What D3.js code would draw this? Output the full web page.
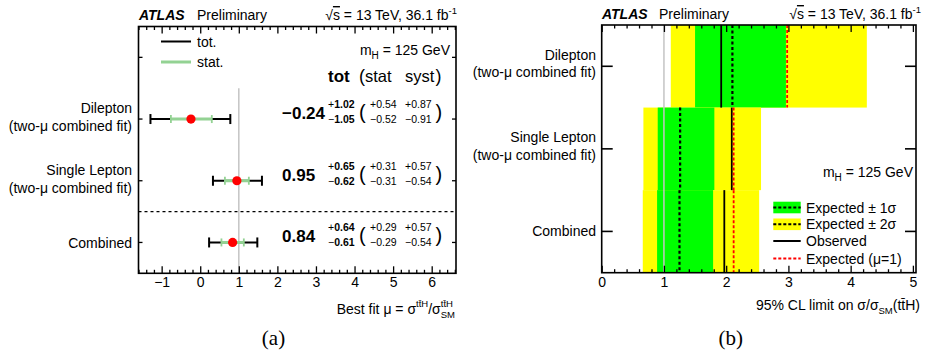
<!DOCTYPE html>
<html><head><meta charset="utf-8">
<script src="https://cdn.jsdelivr.net/npm/d3@7"></script>
<style>
body{margin:0;background:#fff}
svg{display:block}
text{font-family:"Liberation Sans",Arial,Helvetica,sans-serif;fill:#000;white-space:pre}
</style>
</head><body>
<svg id="c" width="926" height="354"></svg>
<script>
// ---------- Data: panel (a) best-fit mu ----------
const leftCategories = ["Dilepton", "Single Lepton", "Combined"];
const leftSubLabels = ["(two-\u03bc combined fit)", "(two-\u03bc combined fit)", ""];
const muBest   = [-0.24, 0.95, 0.84];
const totUp    = [1.02, 0.65, 0.64];
const totDown  = [1.05, 0.62, 0.61];
const statUp   = [0.54, 0.31, 0.29];
const statDown = [0.52, 0.31, 0.29];
const systUp   = [0.87, 0.57, 0.57];
const systDown = [0.91, 0.54, 0.54];
const leftTicks = [-1, 0, 1, 2, 3, 4, 5, 6];

// ---------- Data: panel (b) 95% CL limits ----------
const rightCategories = ["Dilepton", "Single Lepton", "Combined"];
const rightSubLabels = ["(two-\u03bc combined fit)", "(two-\u03bc combined fit)", ""];
const observedLimit = [1.92, 2.09, 1.97];
const expectedLimit = [2.10, 1.26, 1.25];
const expectedMu1   = [2.98, 2.12, 2.12];
const band1Low  = [1.50, 0.90, 0.89];
const band1High = [2.96, 1.81, 1.79];
const band2Low  = [1.11, 0.67, 0.66];
const band2High = [4.26, 2.56, 2.53];
const rightTicks = [0, 1, 2, 3, 4, 5];

const svg = d3.select("#c");
const GREEN = "#00ff00", YELLOW = "#ffff00", STATG = "#93d293";
const MINUS = "\u2212";
const fmt = v => (v < 0 ? MINUS : "") + Math.abs(v).toFixed(2);

// ---------- helpers ----------
function addT(g, x, p) {
  const t = g.append("text").attr("x", x + (p.dx || 0)).attr("y", p.dy || 0)
    .attr("font-size", p.size || 14).text(p.t);
  if (p.bold) t.attr("font-weight", "bold");
  if (p.italic) t.attr("font-style", "italic");
  if (p.over) t.style("text-decoration", "overline");
  if (p.family) t.style("font-family", p.family);
  return t;
}
function richText(parent, x, y, parts, anchor) {
  const g = parent.append("g");
  let cx = 0;
  parts.forEach(p => {
    if (p.stack) {
      let w = 0;
      p.stack.forEach(s => { const t = addT(g, cx, s); w = Math.max(w, t.node().getComputedTextLength()); });
      cx += w;
    } else {
      const t = addT(g, cx, p);
      cx += t.node().getComputedTextLength() + (p.gap || 0);
    }
  });
  const off = anchor === "end" ? -cx : anchor === "middle" ? -cx / 2 : 0;
  g.attr("transform", `translate(${x + off},${y})`);
  return g;
}
function minorTicks(domain, step, majors) {
  const out = [];
  const n0 = Math.ceil(domain[0] / step - 1e-9), n1 = Math.floor(domain[1] / step + 1e-9);
  for (let i = n0; i <= n1; i++) {
    const v = +(i * step).toFixed(6);
    if (!majors.some(m => Math.abs(m - v) < 1e-6)) out.push(v);
  }
  return out;
}
function xAxes(g, x, yBot, yTop, majors, minors) {
  const styleAx = sel => {
    sel.select(".domain").remove();
    sel.selectAll("line").attr("stroke", "#000").attr("stroke-width", 1.3);
    sel.selectAll("text").attr("font-size", 14).style("font-family", '"Liberation Sans",Arial,sans-serif');
  };
  g.append("g").attr("transform", `translate(0,${yBot})`)
    .call(d3.axisBottom(x).tickValues(majors).tickSize(-7).tickPadding(4).tickFormat(d3.format("d"))).call(styleAx);
  g.append("g").attr("transform", `translate(0,${yBot})`)
    .call(d3.axisBottom(x).tickValues(minors).tickSize(-3.5).tickFormat("")).call(styleAx);
  g.append("g").attr("transform", `translate(0,${yTop})`)
    .call(d3.axisTop(x).tickValues(majors).tickSize(-7).tickFormat("")).call(styleAx);
  g.append("g").attr("transform", `translate(0,${yTop})`)
    .call(d3.axisTop(x).tickValues(minors).tickSize(-3.5).tickFormat("")).call(styleAx);
}

// ================= Panel (a) =================
const xL = d3.scaleLinear().domain([-1.6, 6.63]).range([138.5, 456]);
const yL = d3.scaleBand().domain(["legend", ...leftCategories]).range([26.5, 273.3]);
const gL = svg.append("g");

gL.append("line").attr("x1", xL(1)).attr("x2", xL(1))
  .attr("y1", yL("Dilepton")).attr("y2", yL.range()[1])
  .attr("stroke", "#c4c4c4").attr("stroke-width", 1.5);
gL.append("line").attr("x1", xL.range()[0]).attr("x2", xL.range()[1])
  .attr("y1", yL("Combined")).attr("y2", yL("Combined"))
  .attr("stroke", "#000").attr("stroke-width", 1.3).attr("stroke-dasharray", "3,3");

xAxes(gL, xL, yL.range()[1], yL.range()[0], leftTicks, minorTicks(xL.domain(), 0.2, leftTicks));
yL.domain().forEach(c => {
  const yc = yL(c) + yL.bandwidth() / 2;
  gL.append("line").attr("x1", xL.range()[0]).attr("x2", xL.range()[0] + 4).attr("y1", yc).attr("y2", yc).attr("stroke", "#000").attr("stroke-width", 1.3);
  gL.append("line").attr("x1", xL.range()[1] - 4).attr("x2", xL.range()[1]).attr("y1", yc).attr("y2", yc).attr("stroke", "#000").attr("stroke-width", 1.3);
});

leftCategories.forEach((c, i) => {
  const yc = yL(c) + yL.bandwidth() / 2;
  const lo = muBest[i] - totDown[i], hi = muBest[i] + totUp[i];
  gL.append("line").attr("x1", xL(lo)).attr("x2", xL(hi)).attr("y1", yc).attr("y2", yc).attr("stroke", "#000").attr("stroke-width", 2);
  [lo, hi].forEach(v => gL.append("line").attr("x1", xL(v)).attr("x2", xL(v)).attr("y1", yc - 5).attr("y2", yc + 5).attr("stroke", "#000").attr("stroke-width", 2));
  const slo = muBest[i] - statDown[i], shi = muBest[i] + statUp[i];
  gL.append("line").attr("x1", xL(slo)).attr("x2", xL(shi)).attr("y1", yc).attr("y2", yc).attr("stroke", STATG).attr("stroke-width", 3);
  [slo, shi].forEach(v => gL.append("line").attr("x1", xL(v)).attr("x2", xL(v)).attr("y1", yc - 4).attr("y2", yc + 4).attr("stroke", STATG).attr("stroke-width", 1.8));
  gL.append("circle").attr("cx", xL(muBest[i])).attr("cy", yc).attr("r", 4.6).attr("fill", "#ff0000");

  if (leftSubLabels[i]) {
    gL.append("text").attr("x", 132).attr("y", yc - 6).attr("text-anchor", "end").attr("font-size", 14).text(c);
    gL.append("text").attr("x", 132).attr("y", yc + 12).attr("text-anchor", "end").attr("font-size", 14).text(leftSubLabels[i]);
  } else {
    gL.append("text").attr("x", 132).attr("y", yc + 5.5).attr("text-anchor", "end").attr("font-size", 14).text(c);
  }
  gL.append("text").attr("x", 282).attr("y", yc).attr("font-size", 17).attr("font-weight", "bold").text(fmt(muBest[i]));
  richText(gL, 328, yc - 11, [{t: "+", size: 10.5}, {t: totUp[i].toFixed(2), size: 10.5, bold: true}]);
  richText(gL, 328, yc + 4, [{t: MINUS, size: 10.5}, {t: totDown[i].toFixed(2), size: 10.5, bold: true}]);
  gL.append("text").attr("x", 359).attr("y", yc).attr("font-size", 20).text("(");
  gL.append("text").attr("x", 370).attr("y", yc - 11).attr("font-size", 10.5).text("+" + statUp[i].toFixed(2));
  gL.append("text").attr("x", 370).attr("y", yc + 4).attr("font-size", 10.5).text(MINUS + statDown[i].toFixed(2));
  gL.append("text").attr("x", 405).attr("y", yc - 11).attr("font-size", 10.5).text("+" + systUp[i].toFixed(2));
  gL.append("text").attr("x", 405).attr("y", yc + 4).attr("font-size", 10.5).text(MINUS + systDown[i].toFixed(2));
  gL.append("text").attr("x", 435.5).attr("y", yc).attr("font-size", 20).text(")");
});

gL.append("rect").attr("x", xL.range()[0]).attr("y", yL.range()[0])
  .attr("width", xL.range()[1] - xL.range()[0]).attr("height", yL.range()[1] - yL.range()[0])
  .attr("fill", "none").attr("stroke", "#000").attr("stroke-width", 1.6);

gL.append("line").attr("x1", 161).attr("x2", 191).attr("y1", 41.5).attr("y2", 41.5).attr("stroke", "#000").attr("stroke-width", 2);
gL.append("text").attr("x", 197).attr("y", 46.5).attr("font-size", 14).text("tot.");
gL.append("line").attr("x1", 161).attr("x2", 191).attr("y1", 62).attr("y2", 62).attr("stroke", STATG).attr("stroke-width", 3);
gL.append("text").attr("x", 197).attr("y", 67).attr("font-size", 14).text("stat.");
richText(gL, 450, 55, [{t: "m"}, {t: "H", size: 10, dy: 4}, {t: " = 125 GeV"}], "end");
gL.append("text").attr("x", 328).attr("y", 82).attr("font-size", 17).attr("font-weight", "bold").text("tot");
gL.append("text").attr("x", 359).attr("y", 82).attr("font-size", 18).text("(");
gL.append("text").attr("x", 365).attr("y", 82).attr("font-size", 16.5).text("stat");
gL.append("text").attr("x", 405).attr("y", 82).attr("font-size", 16.5).text("syst");
gL.append("text").attr("x", 435.5).attr("y", 82).attr("font-size", 18).text(")");

gL.append("text").attr("x", 139).attr("y", 20).attr("font-size", 14).attr("font-weight", "bold").attr("font-style", "italic").text("ATLAS");
gL.append("text").attr("x", 197).attr("y", 20).attr("font-size", 14).text("Preliminary");
richText(gL, 457, 20, [{t: "\u221a"}, {t: "s", over: true}, {t: " = 13 TeV, 36.1 fb"}, {t: "-1", size: 9.5, dy: -6}], "end");
richText(gL, 455, 314, [{t: "Best fit \u03bc = \u03c3"}, {t: "tt\u0304H", size: 9.5, dy: -7}, {t: "/\u03c3"},
  {stack: [{t: "tt\u0304H", size: 9.5, dy: -7}, {t: "SM", size: 9.5, dy: 4}]}], "end");
gL.append("text").attr("x", 273.5).attr("y", 345).attr("text-anchor", "middle").attr("font-size", 21)
  .style("font-family", '"Liberation Serif","DejaVu Serif",serif').text("(a)");

// ================= Panel (b) =================
const xR = d3.scaleLinear().domain([0, 5.05]).range([601.7, 916]);
const yR = d3.scaleBand().domain(rightCategories).range([25, 272.7]);
const gR = svg.append("g");

rightCategories.forEach((c, i) => {
  const y0 = yR(c), h = yR.bandwidth();
  gR.append("rect").attr("x", xR(band2Low[i])).attr("y", y0).attr("width", xR(band2High[i]) - xR(band2Low[i])).attr("height", h).attr("fill", YELLOW);
  gR.append("rect").attr("x", xR(band1Low[i])).attr("y", y0).attr("width", xR(band1High[i]) - xR(band1Low[i])).attr("height", h).attr("fill", GREEN);
});
gR.append("line").attr("x1", xR(1)).attr("x2", xR(1)).attr("y1", yR.range()[0]).attr("y2", yR.range()[1])
  .attr("stroke", "#c4c4c4").attr("stroke-width", 1.5);
rightCategories.forEach((c, i) => {
  const y0 = yR(c), y1 = yR(c) + yR.bandwidth();
  gR.append("line").attr("x1", xR(observedLimit[i])).attr("x2", xR(observedLimit[i])).attr("y1", y0).attr("y2", y1).attr("stroke", "#000").attr("stroke-width", 1.8);
  gR.append("line").attr("x1", xR(expectedLimit[i])).attr("x2", xR(expectedLimit[i])).attr("y1", y0).attr("y2", y1).attr("stroke", "#000").attr("stroke-width", 2.2).attr("stroke-dasharray", "3,2.5");
  gR.append("line").attr("x1", xR(expectedMu1[i])).attr("x2", xR(expectedMu1[i])).attr("y1", y0).attr("y2", y1).attr("stroke", "#ff0000").attr("stroke-width", 1.8).attr("stroke-dasharray", "3,2");
  const yc = y0 + yR.bandwidth() / 2;
  gR.append("line").attr("x1", xR.range()[0]).attr("x2", xR.range()[0] + 11).attr("y1", yc).attr("y2", yc).attr("stroke", "#000").attr("stroke-width", 1.6);
  gR.append("line").attr("x1", xR.range()[1] - 11).attr("x2", xR.range()[1]).attr("y1", yc).attr("y2", yc).attr("stroke", "#000").attr("stroke-width", 1.6);
  if (rightSubLabels[i]) {
    gR.append("text").attr("x", 596).attr("y", yc - 6.5).attr("text-anchor", "end").attr("font-size", 14).text(c);
    gR.append("text").attr("x", 596).attr("y", yc + 11).attr("text-anchor", "end").attr("font-size", 14).text(rightSubLabels[i]);
  } else {
    gR.append("text").attr("x", 596).attr("y", yc + 5).attr("text-anchor", "end").attr("font-size", 14).text(c);
  }
});
xAxes(gR, xR, yR.range()[1], yR.range()[0], rightTicks, minorTicks(xR.domain(), 0.2, rightTicks));
gR.append("rect").attr("x", xR.range()[0]).attr("y", yR.range()[0])
  .attr("width", xR.range()[1] - xR.range()[0]).attr("height", yR.range()[1] - yR.range()[0])
  .attr("fill", "none").attr("stroke", "#000").attr("stroke-width", 1.6);

const legItems = [
  {label: "Expected \u00b1 1\u03c3", fill: GREEN, stroke: "#000", dash: "3,2", y: 207.5},
  {label: "Expected \u00b1 2\u03c3", fill: YELLOW, stroke: "#000", dash: "3,2", y: 224.3},
  {label: "Observed", fill: null, stroke: "#000", dash: null, y: 241},
  {label: "Expected (\u03bc=1)", fill: null, stroke: "#ff0000", dash: "3,2", y: 258.5}
];
legItems.forEach(d => {
  if (d.fill) gR.append("rect").attr("x", 773.3).attr("y", d.y - 5.8).attr("width", 27.4).attr("height", 11.6).attr("fill", d.fill);
  const l = gR.append("line").attr("x1", 773.3).attr("x2", 800.7).attr("y1", d.y).attr("y2", d.y).attr("stroke", d.stroke).attr("stroke-width", 2);
  if (d.dash) l.attr("stroke-dasharray", d.dash);
  gR.append("text").attr("x", 806).attr("y", d.y + 5).attr("font-size", 14).text(d.label);
});
richText(gR, 913, 177, [{t: "m"}, {t: "H", size: 10, dy: 4}, {t: " = 125 GeV"}], "end");

gR.append("text").attr("x", 602).attr("y", 19).attr("font-size", 14).attr("font-weight", "bold").attr("font-style", "italic").text("ATLAS");
gR.append("text").attr("x", 659).attr("y", 19).attr("font-size", 14).text("Preliminary");
richText(gR, 921, 19, [{t: "\u221a"}, {t: "s", over: true}, {t: " = 13 TeV, 36.1 fb"}, {t: "-1", size: 9.5, dy: -6}], "end");
richText(gR, 920, 310, [{t: "95% CL limit on \u03c3/\u03c3"}, {t: "SM", size: 9.5, dy: 4}, {t: "(tt\u0304H)"}], "end");
gR.append("text").attr("x", 730.7).attr("y", 345).attr("text-anchor", "middle").attr("font-size", 21)
  .style("font-family", '"Liberation Serif","DejaVu Serif",serif').text("(b)");
</script>
</body></html>
